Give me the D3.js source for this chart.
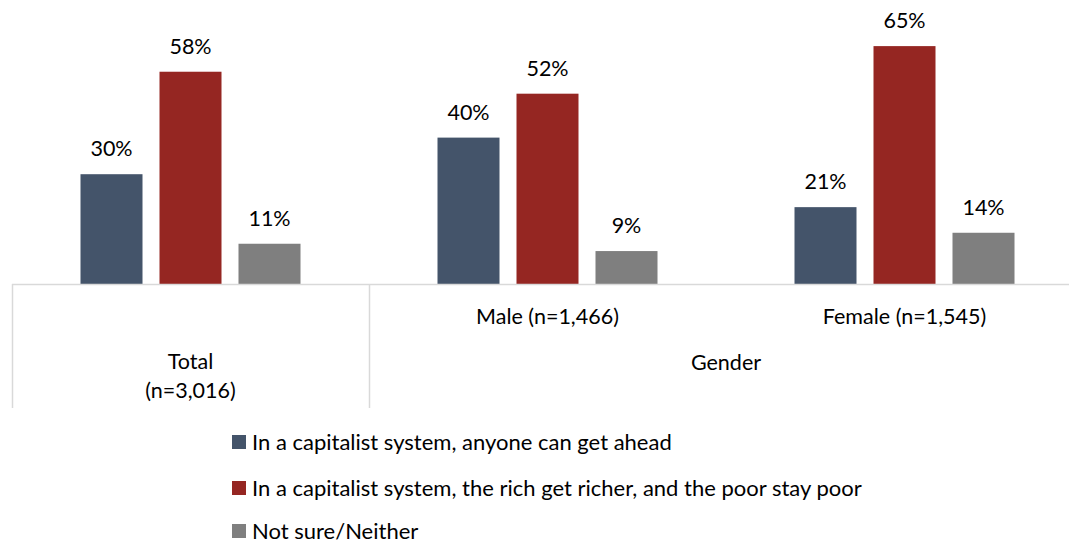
<!DOCTYPE html>
<html><head><meta charset="utf-8">
<script src="https://cdn.jsdelivr.net/npm/d3@7"></script>
<style>body{margin:0;background:#fff;} svg{display:block;font-family:Lato,"Open Sans",sans-serif;}</style>
</head><body>
<svg id="c" width="1069" height="544"></svg>
<script>
const categories = ["Total", "Male (n=1,466)", "Female (n=1,545)"];
const seriesNames = [
  "In a capitalist system, anyone can get ahead",
  "In a capitalist system, the rich get richer, and the poor stay poor",
  "Not sure/Neither"
];
const anyoneAhead = [30, 40, 21];
const richRicher = [58, 52, 65];
const notSure = [11, 9, 14];
const colors = ["#44546A", "#952622", "#7F7F7F"];

const series = [anyoneAhead, richRicher, notSure];
const svg = d3.select("#c");
const baseY = 284;
const x0 = d3.scaleBand().domain(categories).range([12, 1083]).paddingInner(0).paddingOuter(0);
const y = d3.scaleLinear().domain([0, 77.6]).range([baseY, 0]);
const barW = 62, step = 79;
const fs = 21.5;

categories.forEach((c, ci) => {
  const gx = x0(c) + (x0.bandwidth() - (3*barW + 2*(step-barW))) / 2;
  series.forEach((s, si) => {
    const bx = gx + si * step;
    svg.append("rect").attr("x", bx).attr("y", y(s[ci])).attr("width", barW)
      .attr("height", baseY - y(s[ci])).attr("fill", colors[si]);
    svg.append("text").attr("x", bx + barW/2).attr("y", y(s[ci]) - 18)
      .attr("text-anchor", "middle").attr("font-size", fs).attr("fill", "#000")
      .text(s[ci] + "%");
  });
});

// axis lines
svg.append("line").attr("x1", 12).attr("x2", 1069).attr("y1", baseY + 0.5).attr("y2", baseY + 0.5)
  .attr("stroke", "#D9D9D9").attr("stroke-width", 1.5);
[x0(categories[0]), x0(categories[1])].forEach(xx => {
  svg.append("line").attr("x1", xx + 0.5).attr("x2", xx + 0.5).attr("y1", baseY).attr("y2", 408)
    .attr("stroke", "#D9D9D9").attr("stroke-width", 1.5);
});

// category labels
const cx = c => x0(c) + x0.bandwidth()/2;
svg.append("text").attr("x", cx("Total")).attr("y", 369).attr("text-anchor","middle").attr("font-size", fs).text("Total");
svg.append("text").attr("x", cx("Total")).attr("y", 398).attr("text-anchor","middle").attr("font-size", fs).text("(n=3,016)");
[1,2].forEach(i => {
  svg.append("text").attr("x", cx(categories[i])).attr("y", 324).attr("text-anchor","middle").attr("font-size", fs).text(categories[i]);
});
svg.append("text").attr("x", (cx(categories[1]) + cx(categories[2]))/2).attr("y", 370).attr("text-anchor","middle").attr("font-size", fs).text("Gender");

// legend
const ly = [442, 488, 531];
seriesNames.forEach((n, i) => {
  svg.append("rect").attr("x", 232).attr("y", ly[i] - 7).attr("width", 14).attr("height", 14).attr("fill", colors[i]);
  svg.append("text").attr("x", 252).attr("y", ly[i] + 7.5).attr("font-size", 22).text(n);
});
</script>
</body></html>
